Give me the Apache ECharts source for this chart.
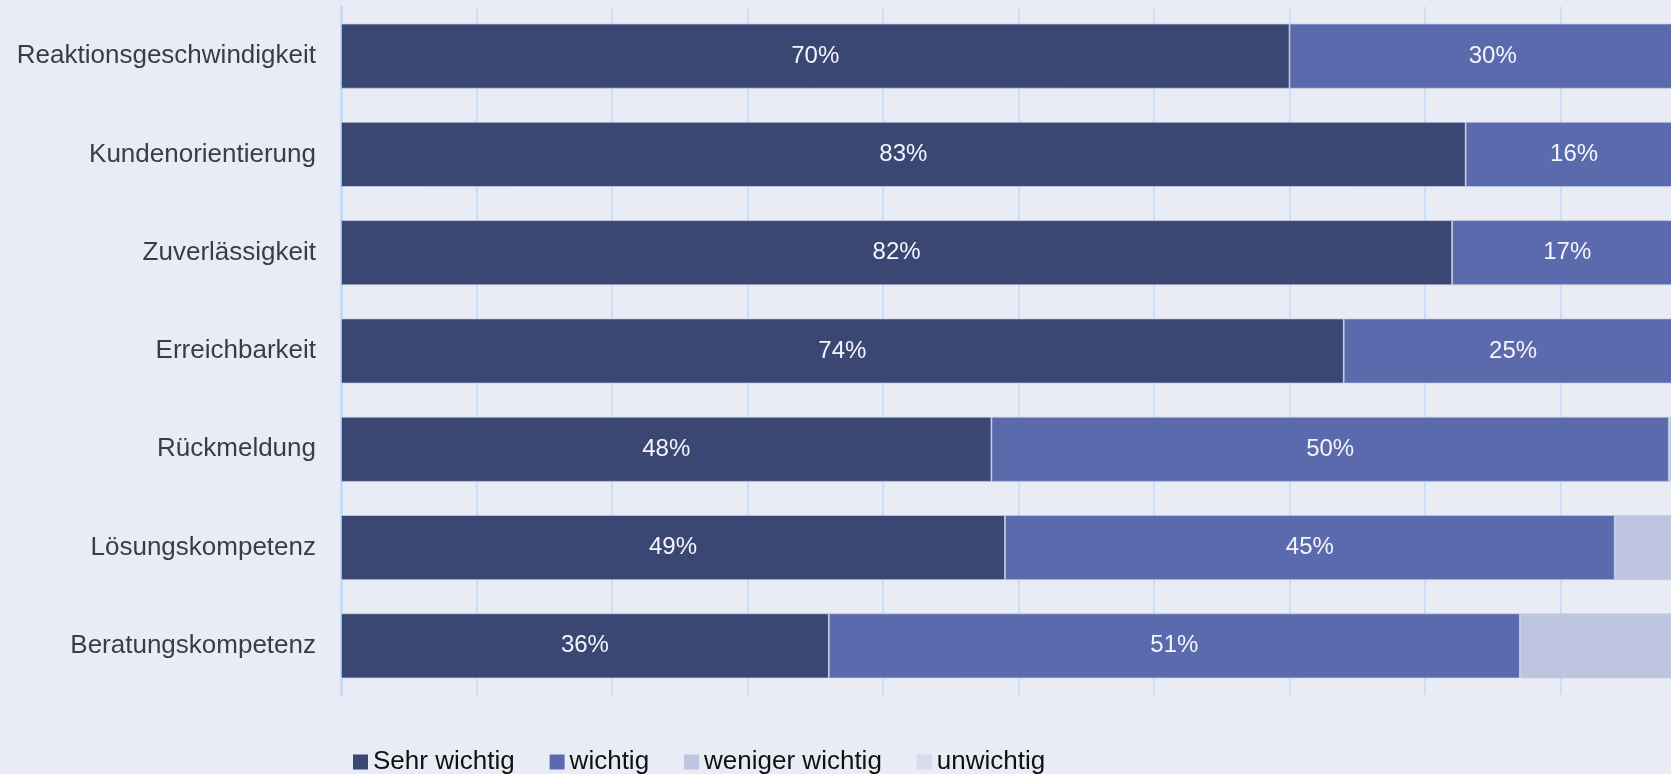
<!DOCTYPE html>
<html>
<head>
<meta charset="utf-8">
<script src="https://cdn.jsdelivr.net/npm/echarts@6/dist/echarts.min.js"></script>
<style>
html,body{margin:0;padding:0;background:#e9ecf5;overflow:hidden;width:1671px;height:774px;}
#chart{width:1700px;height:774px;}
</style>
</head>
<body>
<div id="chart"></div>
<script>
const categories = ["Reaktionsgeschwindigkeit","Kundenorientierung","Zuverlässigkeit","Erreichbarkeit","Rückmeldung","Lösungskompetenz","Beratungskompetenz"];
const seriesNames = ["Sehr wichtig","wichtig","weniger wichtig","unwichtig"];
const sehrWichtig = [70,83,82,74,48,49,36];
const wichtig = [30,16,17,25,50,45,51];
const wenigerWichtig = [0,1,1,1,2,6,12];
const unwichtig = [0,0,0,0,0,0,1];
const colors = ["#3b4773","#5a6aad","#bec5e0","#d7dbec"];
const valueSets = [sehrWichtig, wichtig, wenigerWichtig, unwichtig];

const chart = echarts.init(document.getElementById('chart'), null, {renderer:'canvas'});
const FONT = "'Liberation Sans', Arial, sans-serif";
const series = seriesNames.map((name, i) => ({
  name: name,
  type: 'bar',
  stack: 'total',
  barWidth: 65,
  data: valueSets[i],
  itemStyle: {color: colors[i], borderColor: 'rgba(200,206,228,0.9)', borderWidth: 0.8},
  label: {
    show: i < 2,
    position: 'inside',
    formatter: '{c}%',
    color: '#f4f5fa',
    fontSize: 24,
    fontFamily: FONT
  },
  emphasis: {disabled: true}
}));

chart.setOption({
  backgroundColor: '#e9ecf5',
  animation: false,
  color: colors,
  grid: {left: 341, top: 7, right: 4, bottom: 79, containLabel: false},
  legend: {
    data: seriesNames,
    left: 348,
    top: 744,
    icon: 'rect',
    itemWidth: 15,
    itemHeight: 15,
    itemGap: 35,
    itemStyle: {borderWidth: 0},
    textStyle: {color: '#111', fontSize: 26, fontFamily: FONT, lineHeight: 26}
  },
  xAxis: {
    type: 'value',
    min: 0,
    max: 100,
    interval: 10,
    axisLabel: {show: false},
    axisLine: {show: false},
    axisTick: {show: false},
    splitLine: {show: true, lineStyle: {color: '#c9def8', width: 2}}
  },
  yAxis: {
    type: 'category',
    data: categories,
    inverse: true,
    axisTick: {show: false},
    axisLine: {show: true, lineStyle: {color: '#c6dcf6', width: 3}},
    axisLabel: {color: '#3c3c44', fontSize: 26, fontFamily: FONT, margin: 25}
  },
  series: series
});
</script>
</body>
</html>
